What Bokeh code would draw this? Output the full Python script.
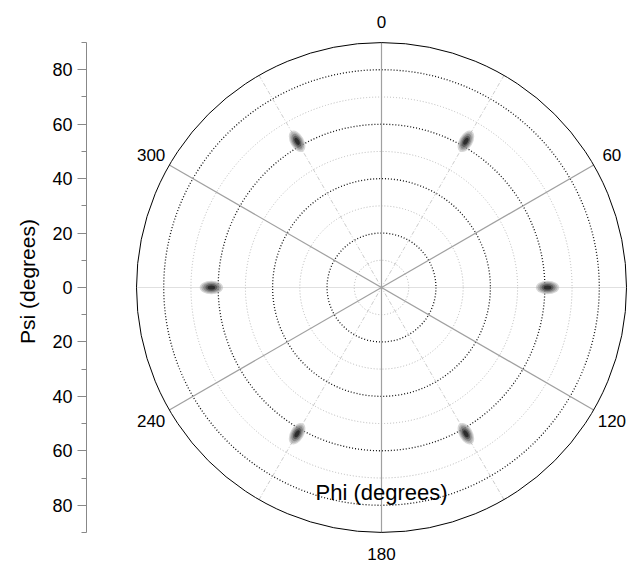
import numpy as np
from bokeh.plotting import figure
from bokeh.models import ColumnDataSource, LinearAxis, FixedTicker, Range1d
from bokeh.core.properties import value
from bokeh.embed import file_html
from bokeh.resources import INLINE

# ---- data ----
psi_max = 90
dark_rings = [20, 40, 60, 80]
light_rings = [10, 30, 50, 70]
major_radials = [0, 60, 120]          # full diameters (deg, clockwise from top)
minor_radials_dashdot = [30, 150]
minor_radials_dotted = [90]
angle_labels = [0, 60, 120, 180, 240, 300]
spot_phi = [30, 90, 150, 210, 270, 330]
spot_psi = [62, 61, 62, 62, 62.5, 62]
psi_major_ticks = [-80, -60, -40, -20, 0, 20, 40, 60, 80]
psi_minor_ticks = [-90, -70, -50, -30, -10, 10, 30, 50, 70, 90]

FONT = "Liberation Sans"

s = 245 / 90.0  # px per degree
cx, cy = 381, 287
W, H = 632, 562
left = 86

p = figure(width=W, height=H, output_backend="svg", toolbar_location=None,
           x_axis_location=None, y_axis_location=None,
           x_range=Range1d(-(cx - left) / s, (W - cx) / s),
           y_range=Range1d(-(H - cy) / s, cy / s),
           min_border_left=left, min_border_right=0, min_border_top=0, min_border_bottom=0)
p.grid.visible = False
p.outline_line_color = None
p.background_fill_color = "white"
p.border_fill_color = "white"

def pol(r, phi_deg):
    a = np.radians(np.asarray(phi_deg, dtype=float))
    r = np.asarray(r, dtype=float)
    return r * np.sin(a), r * np.cos(a)

# rings
p.circle(x=[0] * len(light_rings), y=[0] * len(light_rings), radius=light_rings,
         fill_color=None, line_color="#b8b8b8", line_dash="1 2", line_width=1)
p.circle(x=[0] * len(dark_rings), y=[0] * len(dark_rings), radius=dark_rings,
         fill_color=None, line_color="#111111", line_dash="1 2", line_width=1.3)

# radials
def diam(angles):
    xs, ys = [], []
    for a in angles:
        x0, y0 = pol(psi_max, a)
        xs.append([-float(x0), float(x0)])
        ys.append([-float(y0), float(y0)])
    return xs, ys

xs, ys = diam(minor_radials_dashdot)
p.multi_line(xs, ys, line_color="#cccccc", line_dash="4 2 1 2", line_width=1)
xs, ys = diam(minor_radials_dotted)
p.multi_line(xs, ys, line_color="#c0c0c0", line_dash="1 1", line_width=1)
xs, ys = diam(major_radials)
p.multi_line(xs, ys, line_color="#a0a0a0", line_width=1.2)

# outer ring
p.circle(x=[0], y=[0], radius=[psi_max], fill_color=None, line_color="black", line_width=1)

# spots
sx, sy = pol(spot_psi, spot_phi)
ang = np.radians(90 - np.asarray(spot_phi, dtype=float))
spot_src = ColumnDataSource(dict(x=sx, y=sy, angle=ang))
for w, h, c, a in [(8.6, 5.0, "#b0b0b0", 0.5), (7.4, 4.2, "#909090", 0.5),
                   (6.0, 3.4, "#6a6a6a", 0.55), (4.4, 2.5, "#404040", 0.6),
                   (2.8, 1.5, "#1a1a1a", 0.7)]:
    p.ellipse(x="x", y="y", width=w, height=h, angle="angle", source=spot_src,
              fill_color=c, fill_alpha=a, line_color=None)

# angle labels
lx, ly = pol([266 / s] * len(angle_labels), angle_labels)
p.text(x=lx, y=ly, text=[str(a) for a in angle_labels], text_align="center",
       text_baseline="middle", text_font=value(FONT), text_font_size="17px",
       text_color="black")

# Phi label
p.text(x=[0], y=[-(492 - cy) / s], text=["Phi (degrees)"], text_align="center",
       text_baseline="middle", text_font=value(FONT), text_font_size="22px",
       text_color="black")

# Psi axis
ax = LinearAxis(ticker=FixedTicker(ticks=psi_major_ticks, minor_ticks=psi_minor_ticks),
                bounds=(-psi_max, psi_max))
ax.major_label_overrides = {t: str(abs(t)) for t in psi_major_ticks}
ax.axis_label = "Psi (degrees)"
ax.axis_label_text_font = FONT
ax.axis_label_text_font_size = "21px"
ax.axis_label_text_font_style = "normal"
ax.axis_label_text_color = "black"
ax.axis_label_standoff = 10
ax.major_label_text_font = FONT
ax.major_label_text_font_size = "18px"
ax.major_label_text_color = "black"
ax.major_label_standoff = 5
ax.axis_line_color = "#888888"
ax.major_tick_line_color = "#888888"
ax.minor_tick_line_color = "#888888"
ax.major_tick_out = 9
ax.major_tick_in = 0
ax.minor_tick_out = 5
ax.minor_tick_in = 0
p.add_layout(ax, "left")

open("out.html", "w").write(file_html(p, INLINE))
